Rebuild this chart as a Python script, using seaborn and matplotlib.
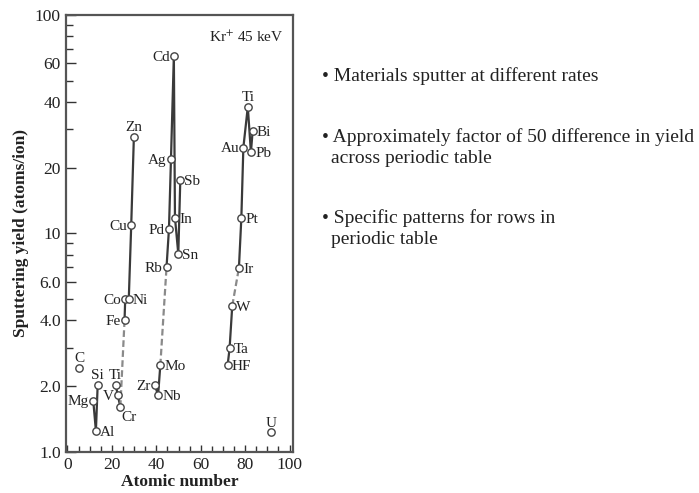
import matplotlib
matplotlib.use("Agg")
import matplotlib.pyplot as plt
from matplotlib.ticker import FixedLocator, NullFormatter, MultipleLocator
import seaborn as sns
import pandas as pd

# ---------------- data ----------------
labels = ["C", "Mg", "Al", "Si", "Ti", "V", "Cr", "Fe", "Co", "Ni", "Cu", "Zn",
          "Zr", "Nb", "Mo", "Rb", "Pd", "Ag", "Cd", "In", "Sn", "Sb",
          "HF", "Ta", "W", "Ir", "Pt", "Au", "Ti", "Pb", "Bi", "U"]
atomic_x = [5.4, 11.6, 12.8, 13.6, 21.7, 22.6, 23.8, 25.7, 26.0, 27.6, 28.7, 29.9,
            39.3, 40.8, 41.8, 44.6, 45.7, 46.6, 47.9, 48.4, 49.9, 50.8,
            72.1, 73.0, 74.2, 77.2, 78.3, 79.2, 81.2, 82.6, 83.4, 91.7]
yields = [2.42, 1.72, 1.25, 2.03, 2.03, 1.83, 1.61, 4.02, 5.0, 5.0, 10.9, 27.7,
          2.03, 1.82, 2.49, 7.0, 10.5, 21.8, 65.0, 11.8, 8.06, 17.5,
          2.49, 2.98, 4.67, 6.95, 11.8, 24.7, 37.9, 23.5, 29.5, 1.23]

# chains of point indices joined by lines
solid_chains = [[1, 2, 3], [4, 5, 6], [7, 8, 9, 10, 11], [12, 13, 14],
                [15, 16, 17, 18, 19, 20, 21], [22, 23, 24],
                [25, 26, 27, 28, 29, 30]]
dashed_chains = [[6, 7], [14, 15], [24, 25]]

y_tick_values = [1, 2, 4, 6, 10, 20, 40, 60, 100]
y_tick_labels = ["1.0", "2.0", "4.0", "6.0", "10", "20", "40", "60", "100"]
y_minor_values = [3, 5, 7, 8, 9, 30, 50, 70, 80, 90]

bullets = [["• Materials sputter at different rates"],
           ["• Approximately factor of 50 difference in yield",
            "across periodic table"],
           ["• Specific patterns for rows in",
            "periodic table"]]

# label placement: (direction)
label_pos = ["above", "left", "right", "above", "above", "left", "belowright",
             "left", "left", "right", "left", "above",
             "left", "right", "right", "left", "left", "left", "left", "right",
             "right", "right",
             "right", "right", "right", "right", "right", "left", "above",
             "right", "right", "above"]

# ---------------- build tables ----------------
pts = pd.DataFrame({"label": labels, "z": atomic_x, "y": yields})
rows = []
for k, ch in enumerate(solid_chains):
    for i in ch:
        rows.append({"seg": f"s{k}", "kind": "solid", "z": atomic_x[i], "y": yields[i]})
for k, ch in enumerate(dashed_chains):
    for i in ch:
        rows.append({"seg": f"d{k}", "kind": "dashed", "z": atomic_x[i], "y": yields[i]})
segs = pd.DataFrame(rows)

# ---------------- plotting ----------------
sns.set_style("white")
plt.rcParams["font.family"] = ["Liberation Serif", "DejaVu Serif"]
plt.rcParams["mathtext.fontset"] = "stix"

fig = plt.figure(figsize=(6.99, 4.93), dpi=100)
ax = fig.add_axes([0.094, 0.083, 0.325, 0.887])

line_col = "#3a3a3a"
sns.lineplot(data=segs[segs.kind == "solid"], x="z", y="y", units="seg",
             estimator=None, sort=False, color=line_col, lw=1.6, ax=ax,
             legend=False)
sns.lineplot(data=segs[segs.kind == "dashed"], x="z", y="y", units="seg",
             estimator=None, sort=False, color="#8a8a8a", lw=1.6, ax=ax,
             legend=False, dashes=False, linestyle=(0, (3, 1.5)))
sns.scatterplot(data=pts, x="z", y="y", ax=ax, s=28, facecolor="white",
                edgecolor="#444444", linewidth=1.0, zorder=5, legend=False)

ax.set_yscale("log")
ax.set_ylim(1, 100)
ax.set_xlim(-0.8, 101.5)

ax.yaxis.set_major_locator(FixedLocator(y_tick_values))
ax.set_yticklabels(y_tick_labels)
ax.yaxis.set_minor_locator(FixedLocator(y_minor_values))
ax.yaxis.set_minor_formatter(NullFormatter())
ax.xaxis.set_major_locator(MultipleLocator(20))
ax.xaxis.set_minor_locator(MultipleLocator(5))

ax.tick_params(axis="both", which="major", direction="in", labelsize=12.5,
               colors="#333333", labelcolor="#222222", width=1.0)
ax.tick_params(axis="y", which="major", length=7)
ax.tick_params(axis="y", which="minor", direction="in", length=5, width=1.0,
               colors="#333333")
ax.tick_params(axis="x", which="major", length=5)
ax.tick_params(axis="x", which="minor", direction="in", length=4, width=1.0,
               colors="#333333")
ax.tick_params(axis="x", which="both", bottom=True)
ax.tick_params(axis="y", which="both", left=True)

for sp in ax.spines.values():
    sp.set_visible(True)
    sp.set_color("#555555")
    sp.set_linewidth(1.6)

ax.set_xlabel("Atomic number", fontsize=12.5, fontweight="bold", labelpad=1,
              color="#222222")
ax.set_ylabel("Sputtering yield (atoms/ion)", fontsize=12.5,
              fontweight="bold", labelpad=4, color="#222222")

# point labels
for lab, zx, yy, pos in zip(labels, atomic_x, yields, label_pos):
    if pos == "left":
        off, ha, va = (-3, -1), "right", "center"
    elif pos == "right":
        off, ha, va = (3, -1), "left", "center"
    elif pos == "above":
        off, ha, va = (0, 2), "center", "bottom"
    else:  # below right
        off, ha, va = (1, -3), "left", "top"
    ax.annotate(lab, (zx, yy), xytext=off, textcoords="offset points",
                ha=ha, va=va, fontsize=11, color="#222222")

ax.text(0.96, 0.965, "Kr$^{+}$ 45 keV", transform=ax.transAxes, ha="right",
        va="top", fontsize=11, color="#222222")

# bullet text
ys = [[76], [137, 158], [218, 240]]
for blk, yl in zip(bullets, ys):
    for j, (line, yp) in enumerate(zip(blk, yl)):
        xp = 322 if j == 0 else 331
        fig.text(xp / 699, 1 - yp / 493, line, ha="left", va="center",
                 fontsize=14, color="#222222")

fig.savefig("out.png", dpi=100)
